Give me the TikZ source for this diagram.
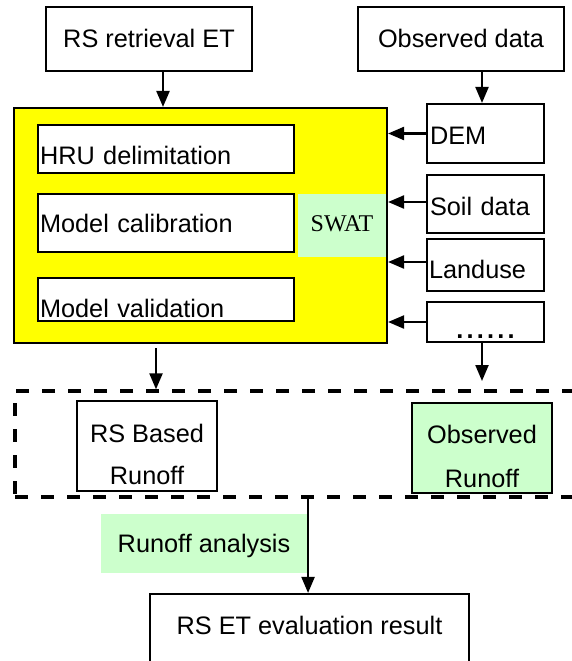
\documentclass[tikz,border=0pt]{standalone}
\usepackage{fontspec}
\setmainfont{Liberation Sans}
\newfontfamily\swatfont{Liberation Serif}
\usetikzlibrary{arrows.meta}
\definecolor{yel}{HTML}{FFFF00}
\definecolor{lgreen}{HTML}{CCFFCC}
\tikzset{
  bx/.style={draw=black, line width=2.1pt, fill=white, inner sep=0pt,
    font=\fontsize{25.3}{30}\selectfont, text height=18pt, text depth=0pt},
  lbx/.style={bx, align=left, inner xsep=2pt},
  arr/.style={line width=2.2pt, -{Triangle[length=16pt,width=13pt]}},
}
\begin{document}
\begin{tikzpicture}[x=1pt,y=-1pt]
\useasboundingbox (0,0) rectangle (571,661);
% top boxes
\node[bx, minimum width=206pt, minimum height=64pt] (rs) at (149,39) {RS retrieval ET};
\node[bx, minimum width=206pt, minimum height=64pt] (obs) at (461,39) {Observed data};
% SWAT container
\node[draw=black, line width=2.1pt, fill=yel, minimum width=373pt, minimum height=235pt, inner sep=0pt] (yel) at (200.5,225.5) {};
\node[lbx, text width=252pt, minimum width=256pt, minimum height=48pt, text height=31pt] (hru) at (166,149) {HRU delimitation};
\node[lbx, text width=252pt, minimum width=256pt, minimum height=58pt, text height=19pt] (calib) at (166,223) {Model calibration};
\node[lbx, text width=252pt, minimum width=256pt, minimum height=43pt, text height=36pt] (valid) at (166,299.5) {Model validation};
\node[fill=lgreen, inner sep=0pt, minimum width=88pt, minimum height=63pt, font=\swatfont\fontsize{24}{28}\selectfont, text height=11pt, text depth=0pt] (swat) at (342,225.5) {SWAT};
% input boxes
\node[lbx, inner xsep=3pt, text width=111pt, minimum width=117pt, minimum height=59pt, text height=22pt] (dem) at (485.5,133.5) {DEM};
\node[lbx, inner xsep=3pt, text width=111pt, minimum width=117pt, minimum height=58pt, text height=22pt] (soil) at (485.5,204) {Soil data};
\node[lbx, inner xsep=2pt, text width=113pt, minimum width=117pt, minimum height=52pt, text height=27pt] (lu) at (485.5,265) {Landuse};
\node[bx, minimum width=117pt, minimum height=40pt, text height=32pt] (dots) at (485.5,322) {\bfseries .\kern3.2pt.\kern3.2pt.\kern3.2pt.\kern3.2pt.\kern3.2pt.};
% dashed group
\node[draw=black, line width=3.3pt, dash pattern=on 13pt off 13pt, minimum width=565pt, minimum height=106pt, inner sep=0pt] (dash) at (297.5,444) {};
\node[bx, minimum width=140pt, minimum height=90pt, align=center, font=\fontsize{25.3}{42}\selectfont, text height=76pt, text depth=0pt] (rsb) at (147,446) {RS Based\\Runoff};
\node[bx, fill=lgreen, minimum width=140pt, minimum height=90pt, align=center, font=\fontsize{25.3}{44}\selectfont, text height=78pt, text depth=0pt] (obr) at (482,448) {Observed\\Runoff};
% analysis
\node[bx, draw=none, fill=lgreen, minimum width=206pt, minimum height=59pt] (ra) at (204,543.5) {Runoff analysis};
\node[bx, minimum width=319pt, minimum height=72pt, text height=8pt] (fin) at (309.5,630) {RS ET evaluation result};
% connectors
\draw[arr] ([xshift=14pt]rs.south) -- ([xshift=14pt]rs.south |- yel.north);
\draw[arr] ([xshift=21pt]obs.south) -- ([xshift=21pt]obs.south |- dem.north);
\draw[arr] (dem.west) -- (dem.west -| yel.east);
\draw[arr] ([yshift=2pt]soil.west) -- ([yshift=2pt]soil.west -| yel.east);
\draw[arr] ([yshift=3pt]lu.west) -- ([yshift=3pt]lu.west -| yel.east);
\draw[arr] (dots.west) -- (dots.west -| yel.east);
\coordinate (yelout) at (156,348);
\draw[arr] (yelout) -- (yelout |- dash.north);
\coordinate (dotsend) at (482,381);
\draw[arr] (dots.south -| dotsend) -- (dotsend);
\draw[arr] (ra.east |- dash.south) -- (ra.east |- fin.north);
\end{tikzpicture}
\end{document}
